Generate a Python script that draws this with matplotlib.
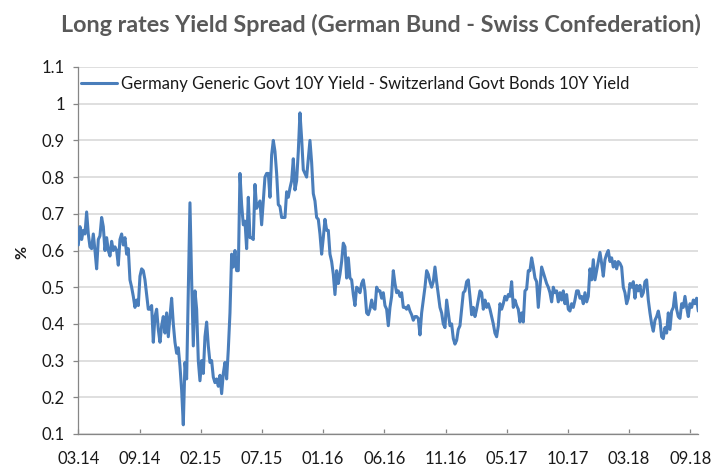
import numpy as np
import matplotlib
matplotlib.use("Agg")
import matplotlib.pyplot as plt
from matplotlib import font_manager as fm

# Bund 10Y minus Swiss Confederation 10Y yield, in percentage points
spread = [
    0.615, 0.665, 0.63, 0.655, 0.645, 0.705, 0.645, 0.61, 0.605, 0.645,
    0.60, 0.55, 0.63, 0.64, 0.69, 0.665, 0.60, 0.635, 0.60, 0.585,
    0.625, 0.60, 0.61, 0.60, 0.56, 0.63, 0.645, 0.615, 0.635, 0.59,
    0.605, 0.52, 0.50, 0.475, 0.445, 0.465, 0.45, 0.53, 0.55, 0.545,
    0.52, 0.48, 0.44, 0.44, 0.45, 0.35, 0.42, 0.44, 0.385, 0.35,
    0.395, 0.42, 0.375, 0.43, 0.365, 0.42, 0.47, 0.40, 0.35, 0.32,
    0.335, 0.285, 0.22, 0.125, 0.295, 0.25, 0.49, 0.73, 0.52, 0.34,
    0.49, 0.44, 0.30, 0.245, 0.30, 0.265, 0.365, 0.405, 0.34, 0.295,
    0.30, 0.255, 0.24, 0.25, 0.23, 0.26, 0.21, 0.265, 0.295, 0.25,
    0.33, 0.43, 0.59, 0.555, 0.60, 0.545, 0.545, 0.81, 0.725, 0.67,
    0.68, 0.605, 0.745, 0.635, 0.635, 0.63, 0.78, 0.715, 0.725, 0.735,
    0.67, 0.735, 0.80, 0.81, 0.81, 0.745, 0.86, 0.90, 0.87, 0.81,
    0.725, 0.72, 0.69, 0.69, 0.69, 0.76, 0.745, 0.77, 0.79, 0.85,
    0.765, 0.79, 0.87, 0.975, 0.905, 0.82, 0.81, 0.80, 0.85, 0.90,
    0.84, 0.755, 0.735, 0.69, 0.685, 0.645, 0.59, 0.635, 0.685, 0.655,
    0.655, 0.59, 0.57, 0.535, 0.48, 0.545, 0.51, 0.535, 0.57, 0.62,
    0.61, 0.525, 0.58, 0.525, 0.52, 0.48, 0.45, 0.50, 0.495, 0.485,
    0.51, 0.52, 0.49, 0.43, 0.425, 0.44, 0.465, 0.445, 0.44, 0.50,
    0.49, 0.49, 0.47, 0.485, 0.45, 0.44, 0.395, 0.445, 0.475, 0.545,
    0.51, 0.485, 0.49, 0.475, 0.485, 0.445, 0.445, 0.44, 0.45, 0.435,
    0.425, 0.41, 0.42, 0.42, 0.415, 0.37, 0.43, 0.465, 0.50, 0.545,
    0.535, 0.515, 0.50, 0.515, 0.555, 0.515, 0.48, 0.445, 0.43, 0.40,
    0.39, 0.465, 0.43, 0.395, 0.40, 0.36, 0.345, 0.355, 0.385, 0.395,
    0.44, 0.485, 0.49, 0.515, 0.52, 0.475, 0.425, 0.445, 0.42, 0.44,
    0.465, 0.49, 0.485, 0.44, 0.465, 0.445, 0.455, 0.44, 0.42, 0.40,
    0.375, 0.365, 0.395, 0.455, 0.44, 0.455, 0.475, 0.465, 0.48, 0.475,
    0.515, 0.445, 0.465, 0.45, 0.44, 0.405, 0.43, 0.405, 0.49, 0.495,
    0.545, 0.545, 0.58, 0.555, 0.525, 0.515, 0.445, 0.50, 0.555, 0.54,
    0.525, 0.51, 0.50, 0.485, 0.46, 0.50, 0.485, 0.49, 0.46, 0.485,
    0.465, 0.49, 0.455, 0.48, 0.44, 0.435, 0.455, 0.445, 0.465, 0.49,
    0.49, 0.47, 0.475, 0.455, 0.485, 0.46, 0.475, 0.55, 0.52, 0.575,
    0.52, 0.545, 0.57, 0.595, 0.565, 0.53, 0.575, 0.59, 0.60, 0.57,
    0.58, 0.555, 0.57, 0.55, 0.57, 0.565, 0.555, 0.50, 0.485, 0.455,
    0.47, 0.51, 0.50, 0.515, 0.47, 0.505, 0.49, 0.505, 0.475, 0.485,
    0.515, 0.52, 0.465, 0.43, 0.40, 0.38, 0.41, 0.42, 0.435, 0.41,
    0.365, 0.36, 0.39, 0.375, 0.43, 0.385, 0.435, 0.445, 0.485, 0.44,
    0.42, 0.415, 0.455, 0.445, 0.475, 0.445, 0.42, 0.455, 0.445, 0.465,
    0.455, 0.47, 0.435,
]

date_labels = ["03.14", "09.14", "02.15", "07.15", "01.16", "06.16",
               "11.16", "05.17", "10.17", "03.18", "09.18"]
obs_per_label = 36.72  # observations between two date labels

y_ticks = [0.1, 0.2, 0.3, 0.4, 0.5, 0.6, 0.7, 0.8, 0.9, 1.0, 1.1]

series_name = ("Germany Generic Govt 10Y Yield - "
               "Switzerland Govt Bonds 10Y Yield")
title = "Long rates Yield Spread (German Bund - Swiss Confederation)"

installed = {f.name for f in fm.fontManager.ttflist}
title_font = next((f for f in ["Lato", "DejaVu Sans"] if f in installed),
                  "DejaVu Sans")
body_font = next((f for f in ["Lato", "Open Sans", "DejaVu Sans"]
                  if f in installed), "DejaVu Sans")

line_blue = "#4A7EBB"
axis_grey = "#868686"
grid_grey = "#D9D9D9"
text_dark = "#1A1A1A"

W, H = 714, 466
fig = plt.figure(figsize=(W / 100, H / 100), dpi=100)
left, right, top, bottom = 78.3, 698.3, 67.0, 434.0
ax = fig.add_axes([left / W, 1 - bottom / H, (right - left) / W, (bottom - top) / H])

x = np.arange(len(spread))
ax.plot(x, spread, color=line_blue, lw=2.2, solid_joinstyle="round",
        solid_capstyle="round", label=series_name, zorder=3)

ax.set_xlim(0, len(spread) - 1)
ax.set_ylim(y_ticks[0], y_ticks[-1])

ax.set_yticks(y_ticks)
ax.set_yticklabels([f"{v:g}" for v in y_ticks])
ax.yaxis.grid(True, color=grid_grey, lw=1.2)
ax.set_axisbelow(True)

ax.set_xticks([k * obs_per_label for k in range(len(date_labels))])
ax.set_xticklabels(date_labels)

for side in ("top", "right"):
    ax.spines[side].set_visible(False)
for side in ("left", "bottom"):
    ax.spines[side].set_color(axis_grey)
    ax.spines[side].set_linewidth(0.9)

ax.tick_params(axis="x", direction="in", length=3.5, width=0.9,
               color=axis_grey, pad=12.5, labelsize=12, labelcolor=text_dark)
ax.tick_params(axis="y", direction="out", length=3.6, width=0.9,
               color=axis_grey, pad=6, labelsize=12, labelcolor=text_dark)
for lab in ax.get_xticklabels() + ax.get_yticklabels():
    lab.set_fontfamily(body_font)

leg = ax.legend(loc="center left", bbox_to_anchor=(0.004, 0.954),
                frameon=False, borderpad=0, borderaxespad=0,
                handlelength=2.2, handletextpad=0.2,
                prop={"family": body_font, "size": 12})
for t in leg.get_texts():
    t.set_color(text_dark)

fig.text(22 / W, 1 - 252 / H, "%", rotation=90, ha="center", va="center",
         fontsize=11.5, fontweight="bold", color=text_dark, family=body_font)

fig.text(381 / W, 1 - 25 / H, title, ha="center", va="center",
         fontsize=16.8, fontweight="bold", color="#595959", family=title_font)

fig.savefig("out.png", dpi=100, facecolor="white")
